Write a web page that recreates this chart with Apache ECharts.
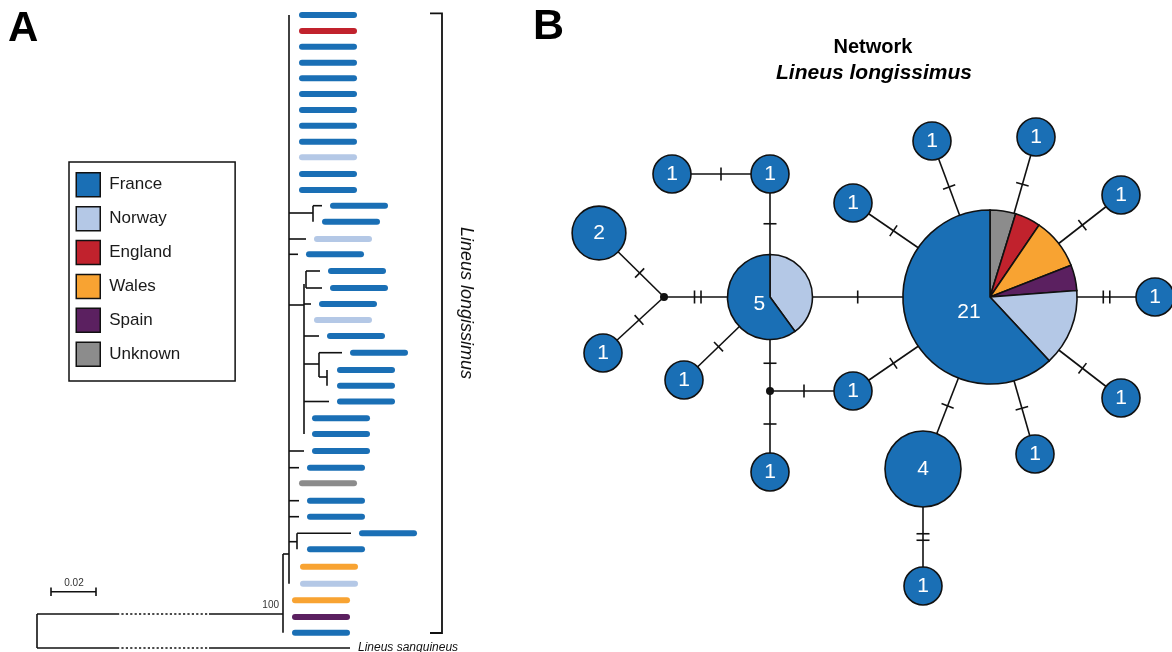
<!DOCTYPE html>
<html>
<head>
<meta charset="utf-8">
<script src="https://cdn.jsdelivr.net/npm/echarts@6/dist/echarts.min.js"></script>
<style>
  html, body { margin: 0; padding: 0; background: #fff; }
  #chart { width: 1172px; height: 652px; }
</style>
</head>
<body>
<div id="chart"></div>
<script>
// ---- countries ----
var countries = ["France", "Norway", "England", "Wales", "Spain", "Unknown"];
var countryColors = ["#1a6fb5", "#b4c8e6", "#c1222d", "#f8a332", "#5b2060", "#8c8c8c"];

// ---- tree (A): tips, figure units ----
var tipY = [15, 31, 46.7, 62.7, 78.3, 94, 110, 125.7, 141.7, 157.3, 174, 190, 205.7, 221.7, 239, 254.3, 271, 288, 304, 320,
  336, 352.7, 370, 385.7, 401.5, 418.3, 434, 451, 467.7, 483.3, 500.7, 516.7, 533.3, 549.3, 566.7, 583.7, 600.3, 617, 632.7];
var tipX = [299, 299, 299, 299, 299, 299, 299, 299, 299, 299, 299, 299, 330, 322, 314, 306, 328, 330, 319, 314,
  327, 350, 337, 337, 337, 312, 312, 312, 307, 299, 307, 307, 359, 307, 300, 300, 292, 292, 292];
var tipParent = [2, 2, 2, 2, 2, 2, 2, 2, 2, 2, 2, 2, 3, 3, 2, 2, 5, 5, 4, 4,
  4, 6, 7, 7, 4, 4, 4, 2, 2, 2, 2, 2, 8, 8, 2, 2, 1, 1, 1];
var tipCountry = [0, 2, 0, 0, 0, 0, 0, 0, 0, 1, 0, 0, 0, 0, 1, 0, 0, 0, 0, 1,
  0, 0, 0, 0, 0, 0, 0, 0, 0, 5, 0, 0, 0, 0, 3, 1, 3, 4, 0];

// internal nodes
var nodeX = [37, 283, 289, 313, 304, 306, 319, 327, 297];
var nodeY = [614, 614, 554, 213, 305, 284, 364, 377, 541.7];
var nodeParent = [-1, 0, 1, 2, 2, 4, 4, 6, 2];

// outgroup
var outgroupName = "Lineus sanguineus";
var outgroupX = 350, outgroupY = 648, outgroupParent = 0;
var breakFrom = 117, breakTo = 209;
var bootstrapLabel = "100";

// ---- network (B) ----
var hapX = [672, 770, 599, 603, 664, 770, 684, 770, 853, 770, 990, 853, 932, 1036, 1121, 1155, 1121, 1035, 923, 923];
var hapY = [174, 174, 233, 353, 297, 297, 380, 391, 391, 472, 297, 203, 141, 137, 195, 297, 398, 454, 469, 586];
var hapFrance  = [1, 1, 2, 1, 0, 3, 1, 0, 1, 1, 13, 1, 1, 1, 1, 1, 1, 1, 4, 1];
var hapNorway  = [0, 0, 0, 0, 0, 2, 0, 0, 0, 0, 3, 0, 0, 0, 0, 0, 0, 0, 0, 0];
var hapEngland = [0, 0, 0, 0, 0, 0, 0, 0, 0, 0, 1, 0, 0, 0, 0, 0, 0, 0, 0, 0];
var hapWales   = [0, 0, 0, 0, 0, 0, 0, 0, 0, 0, 2, 0, 0, 0, 0, 0, 0, 0, 0, 0];
var hapSpain   = [0, 0, 0, 0, 0, 0, 0, 0, 0, 0, 1, 0, 0, 0, 0, 0, 0, 0, 0, 0];
var hapUnknown = [0, 0, 0, 0, 0, 0, 0, 0, 0, 0, 1, 0, 0, 0, 0, 0, 0, 0, 0, 0];
var hapCounts = [hapFrance, hapNorway, hapEngland, hapWales, hapSpain, hapUnknown];

var edgeFrom  = [0, 1, 2, 3, 4, 6, 5, 7, 7, 5, 8, 11, 12, 13, 14, 15, 16, 17, 18, 19];
var edgeTo    = [1, 5, 4, 4, 5, 5, 7, 8, 9, 10, 10, 10, 10, 10, 10, 10, 10, 10, 10, 18];
var edgeSteps = [1, 1, 1, 1, 2, 1, 1, 1, 1, 1, 1, 1, 1, 1, 1, 2, 1, 1, 1, 2];

// ---- styling constants ----
var ink = "#111";
var tipLen = 58;
var unitR = 19;
var pieOrder = [5, 2, 3, 4, 1, 0]; // clockwise from 12 o'clock
var font = '"Liberation Sans", Arial, sans-serif';

// ---- build tree segments ----
var treeSegs = [];
function addH(x1, x2, y) {
  if (x2 - x1 <= 3) return;
  if (x1 < breakFrom && x2 > breakTo) {
    treeSegs.push([x1, y, breakFrom, y, 0], [breakFrom, y, breakTo, y, 1], [breakTo, y, x2, y, 0]);
  } else {
    treeSegs.push([x1, y, x2, y, 0]);
  }
}
nodeX.forEach(function (x, i) {
  var ys = [];
  nodeParent.forEach(function (p, j) { if (p === i) ys.push(nodeY[j]); });
  tipParent.forEach(function (p, j) { if (p === i) ys.push(tipY[j]); });
  if (outgroupParent === i) ys.push(outgroupY);
  if (ys.length) treeSegs.push([x, Math.min.apply(null, ys), x, Math.max.apply(null, ys), 0]);
  if (nodeParent[i] >= 0) addH(nodeX[nodeParent[i]], x, nodeY[i]);
});
tipY.forEach(function (y, j) { addH(nodeX[tipParent[j]], tipX[j] - 8, y); });
addH(nodeX[outgroupParent], outgroupX, outgroupY);

function hapTotal(i) {
  var s = 0;
  hapCounts.forEach(function (arr) { s += arr[i]; });
  return s;
}
function hapRadius(i) {
  var t = hapTotal(i);
  return t ? unitR * Math.sqrt(t) : 4;
}

var edgeData = edgeFrom.map(function (a, k) {
  var b = edgeTo[k];
  return [hapX[a], hapY[a], hapX[b], hapY[b], edgeSteps[k], hapRadius(a), hapRadius(b)];
});
var hapData = hapX.map(function (x, i) { return [x, hapY[i]]; });

// ---- renderers ----
function renderSeg(params, api) {
  var a = api.coord([api.value(0), api.value(1)]);
  var b = api.coord([api.value(2), api.value(3)]);
  return {
    type: "line",
    shape: { x1: a[0], y1: a[1], x2: b[0], y2: b[1] },
    style: { stroke: ink, lineWidth: 1.6, lineDash: api.value(4) ? [2.2, 2.2] : null }
  };
}

function renderTip(params, api) {
  var a = api.coord([api.value(0) + 3, api.value(1)]);
  var b = api.coord([api.value(0) + tipLen - 3, api.value(1)]);
  return {
    type: "line",
    shape: { x1: a[0], y1: a[1], x2: b[0], y2: b[1] },
    style: { stroke: api.visual("color"), lineWidth: 6, lineCap: "round" }
  };
}

function renderEdge(params, api) {
  var a = api.coord([api.value(0), api.value(1)]);
  var b = api.coord([api.value(2), api.value(3)]);
  var steps = api.value(4), ra = api.value(5), rb = api.value(6);
  var dx = b[0] - a[0], dy = b[1] - a[1];
  var len = Math.sqrt(dx * dx + dy * dy);
  var ux = dx / len, uy = dy / len;
  var m = (ra + len - rb) / 2;
  var mx = a[0] + ux * m, my = a[1] + uy * m;
  var children = [{
    type: "line",
    shape: { x1: a[0], y1: a[1], x2: b[0], y2: b[1] },
    style: { stroke: ink, lineWidth: 1.6 }
  }];
  for (var k = 0; k < steps; k++) {
    var off = (k - (steps - 1) / 2) * 6.5;
    var hx = mx + ux * off, hy = my + uy * off;
    children.push({
      type: "line",
      shape: { x1: hx - uy * 6.5, y1: hy + ux * 6.5, x2: hx + uy * 6.5, y2: hy - ux * 6.5 },
      style: { stroke: ink, lineWidth: 1.6 }
    });
  }
  return { type: "group", children: children };
}

function renderHap(params, api) {
  var i = params.dataIndex;
  var c = api.coord([api.value(0), api.value(1)]);
  var total = hapTotal(i);
  if (!total) {
    return { type: "circle", shape: { cx: c[0], cy: c[1], r: 4 }, style: { fill: ink } };
  }
  var r = unitR * Math.sqrt(total);
  var children = [];
  var used = pieOrder.filter(function (k) { return hapCounts[k][i] > 0; });
  var lx = c[0], ly = c[1];
  if (used.length === 1) {
    children.push({
      type: "circle",
      shape: { cx: c[0], cy: c[1], r: r },
      style: { fill: countryColors[used[0]], stroke: ink, lineWidth: 1.6 }
    });
  } else {
    var ang = -Math.PI / 2;
    used.forEach(function (k) {
      var sweep = hapCounts[k][i] / total * Math.PI * 2;
      children.push({
        type: "sector",
        shape: { cx: c[0], cy: c[1], r0: 0, r: r, startAngle: ang, endAngle: ang + sweep, clockwise: true },
        style: { fill: countryColors[k], stroke: ink, lineWidth: 1.6 }
      });
      if (k === 0) {
        // count label sits inside the France slice, a little below its middle
        var mid = ang + sweep / 2 - 0.26;
        lx = c[0] + Math.cos(mid) * r * 0.3;
        ly = c[1] + Math.sin(mid) * r * 0.3;
      }
      ang += sweep;
    });
  }
  children.push({
    type: "text",
    style: {
      text: String(total), x: lx, y: ly, fill: "#fff",
      font: "21px " + font, align: "center", verticalAlign: "middle"
    }
  });
  return { type: "group", children: children };
}

// ---- series ----
var series = [{
  type: "custom",
  name: "tree",
  renderItem: renderSeg,
  data: treeSegs,
  encode: { x: [0, 2], y: [1, 3] },
  silent: true,
  z: 1
}];
countries.forEach(function (name, k) {
  var data = [];
  tipY.forEach(function (y, j) { if (tipCountry[j] === k) data.push([tipX[j], y]); });
  series.push({
    type: "custom",
    name: name,
    renderItem: renderTip,
    itemStyle: { color: countryColors[k] },
    data: data,
    encode: { x: 0, y: 1 },
    silent: true,
    z: 2
  });
});
series.push({
  type: "custom",
  name: "edges",
  renderItem: renderEdge,
  data: edgeData,
  encode: { x: [0, 2], y: [1, 3] },
  silent: true,
  z: 3
});
series.push({
  type: "custom",
  name: "haplotypes",
  renderItem: renderHap,
  data: hapData,
  encode: { x: 0, y: 1 },
  silent: true,
  z: 4
});

var chart = echarts.init(document.getElementById("chart"));
var option = {
  animation: false,
  backgroundColor: "#fff",
  grid: { left: 0, right: 0, top: 0, bottom: 0 },
  xAxis: { type: "value", min: 0, max: 1172, show: false },
  yAxis: { type: "value", min: 0, max: 652, inverse: true, show: false },
  legend: {
    orient: "vertical",
    left: 69,
    top: 162,
    data: countries,
    icon: "rect",
    itemWidth: 24,
    itemHeight: 24,
    itemGap: 8.4,
    padding: [10, 55, 14, 6.5],
    borderColor: ink,
    borderWidth: 1.5,
    selectedMode: false,
    itemStyle: { borderColor: ink, borderWidth: 1.5 },
    textStyle: { fontSize: 17, fontFamily: font, color: "#1a1a1a", padding: [0, 0, 0, 4] }
  },
  graphic: [
    { type: "text", style: { text: "A", x: 8, y: 29, font: "bold 42px " + font, fill: "#000", verticalAlign: "middle" } },
    { type: "text", style: { text: "B", x: 533, y: 27, font: "bold 43px " + font, fill: "#000", verticalAlign: "middle" } },
    { type: "text", style: { text: "Network", x: 873, y: 47, font: "bold 20px " + font, fill: "#000", align: "center", verticalAlign: "middle" } },
    { type: "text", style: { text: "Lineus longissimus", x: 874, y: 73, font: "italic bold 21px " + font, fill: "#000", align: "center", verticalAlign: "middle" } },
    { type: "text", x: 466, y: 303, rotation: -Math.PI / 2,
      style: { text: "Lineus longissimus", x: 0, y: 0, font: "italic 18px " + font, fill: "#111", align: "center", verticalAlign: "middle" } },
    { type: "text", style: { text: outgroupName, x: 358, y: 648, font: "italic 12px " + font, fill: "#111", verticalAlign: "middle" } },
    { type: "text", style: { text: bootstrapLabel, x: 279, y: 605, font: "10px " + font, fill: "#333", align: "right", verticalAlign: "middle" } },
    { type: "text", style: { text: "0.02", x: 74, y: 583, font: "10px " + font, fill: "#333", align: "center", verticalAlign: "middle" } },
    // scale bar
    { type: "polyline", shape: { points: [[51, 591.7], [96, 591.7]] }, style: { stroke: ink, lineWidth: 1.6 } },
    { type: "polyline", shape: { points: [[51, 587.5], [51, 596]] }, style: { stroke: ink, lineWidth: 1.6 } },
    { type: "polyline", shape: { points: [[96, 587.5], [96, 596]] }, style: { stroke: ink, lineWidth: 1.6 } },
    // bracket
    { type: "polyline", shape: { points: [[430, 13.3], [442, 13.3], [442, 633], [430, 633]] }, style: { stroke: ink, lineWidth: 1.8, fill: null } }
  ],
  series: series
};
chart.setOption(option);
window.addEventListener("resize", chart.resize);
</script>
</body>
</html>
